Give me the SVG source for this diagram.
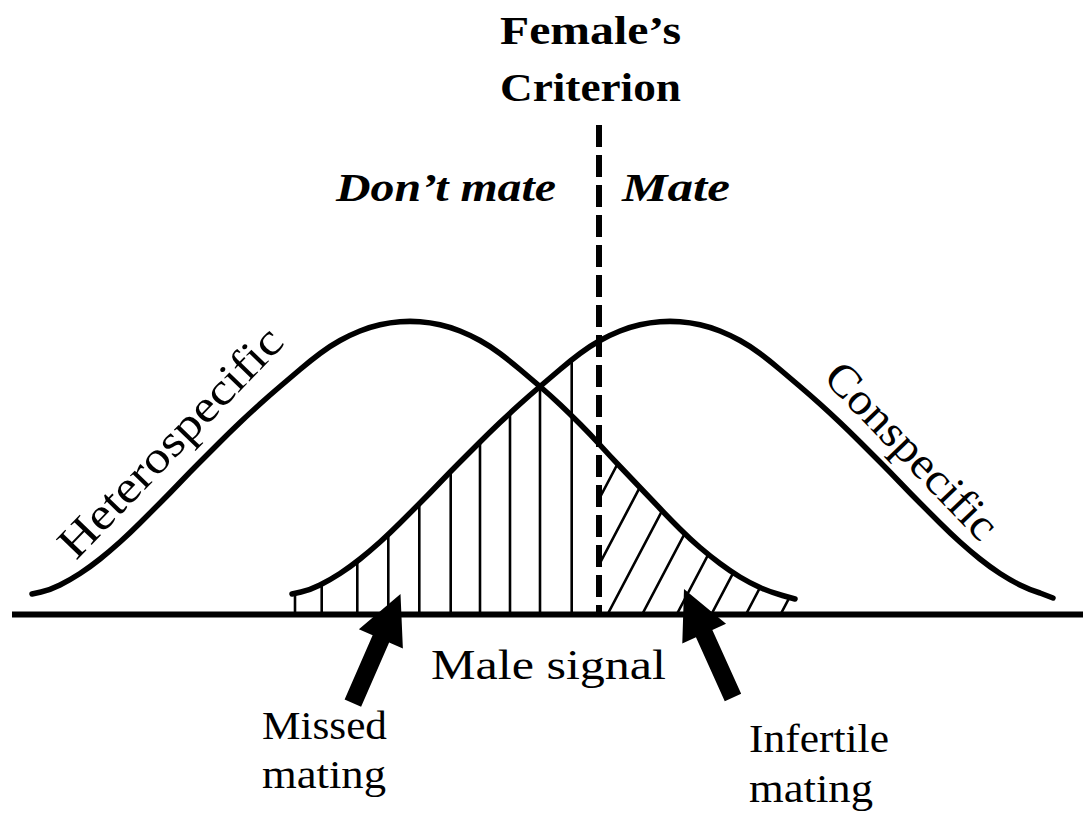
<svg xmlns="http://www.w3.org/2000/svg" width="1083" height="813" viewBox="0 0 1083 813">
<style>
.curve{fill:none;stroke:#000;stroke-width:5.5;stroke-linecap:round;stroke-linejoin:round}
.hatch{stroke:#000;stroke-width:2.6;fill:none}
.t{font-family:"Liberation Serif","Times New Roman",serif;fill:#000}
.b{font-weight:bold}
.bi{font-weight:bold;font-style:italic}
</style>
<defs>
<clipPath id="clipV">
<path d="M292 594 L301 592 Q310 590 320 585 Q330 580 340 573.5 Q350 567 360 559 Q370 551 380 542 Q390 533 400 523 Q410 513 420 503 Q430 493 440 482.5 Q450 472 460 462 Q470 452 480 442 Q490 432 500 422.5 Q510 413 520 404 Q530 395 540 386.5 Q550 378 560 369.5 Q570 361 580 353.5 Q590 346 600 340.5 L600 615 L292 615 Z"/>
</clipPath>
<clipPath id="clipD">
<path d="M600 445 Q610 456 620 466.5 Q630 477 640 487.5 Q650 498 660 508.5 Q670 519 680 529 Q690 539 700 547.5 Q710 556 720 563.5 Q730 571 740 577 Q750 583 760 587.5 Q770 592 782.5 595.5 L795 599 L795 615 L600 615 Z"/>
</clipPath>
<path id="arrowShape" d="M0 0 L24 49 L9 49 L9 119 L-9 119 L-9 49 L-24 49 Z"/>
</defs>
<rect width="1083" height="813" fill="#fff"/>

<g id="hatching">
<g clip-path="url(#clipV)">
<path class="hatch" d="M295 300V616M321.7 300V616M357.3 300V616M388.3 300V616M419.3 300V616M450.7 300V616M480 300V616M510 300V616M540 300V616M571.7 300V616"/>
</g>
<g clip-path="url(#clipD)">
<path class="hatch" d="M538 615L696 315M572.6 615L730.6 315M607.2 615L765.2 315M641.8 615L799.8 315M676.4 615L834.4 315M711 615L869 315M745.6 615L903.6 315M780.2 615L938.2 315"/>
</g>
</g>

<g id="heterospecific">
<path class="curve" d="M32 594 L41 592 Q50 590 60 585 Q70 580 80 573.5 Q90 567 100 559 Q110 551 120 542 Q130 533 140 523 Q150 513 160 503 Q170 493 180 482.5 Q190 472 200 462 Q210 452 220 442 Q230 432 240 422.5 Q250 413 260 404 Q270 395 280 386.5 Q290 378 300 369.5 Q310 361 320 353.5 Q330 346 340 340.5 Q350 335 360 331 Q370 327 380 324.75 Q390 322.5 400 321.75 Q410 321 420 321.75 Q430 322.5 440 324.75 Q450 327 460 331 Q470 335 480 340.5 Q490 346 500 353.5 Q510 361 520 369.5 Q530 378 540 386.5 Q550 395 560 404.5 Q570 414 580 424 Q590 434 600 445 Q610 456 620 466.5 Q630 477 640 487.5 Q650 498 660 508.5 Q670 519 680 529 Q690 539 700 547.5 Q710 556 720 563.5 Q730 571 740 577 Q750 583 760 587.5 Q770 592 782.5 595.5 L795 599"/>
<text class="t" font-size="45" transform="translate(76 561) rotate(-46)" textLength="302" lengthAdjust="spacingAndGlyphs">Heterospecific</text>
</g>

<g id="conspecific">
<path class="curve" d="M292 594 L301 592 Q310 590 320 585 Q330 580 340 573.5 Q350 567 360 559 Q370 551 380 542 Q390 533 400 523 Q410 513 420 503 Q430 493 440 482.5 Q450 472 460 462 Q470 452 480 442 Q490 432 500 422.5 Q510 413 520 404 Q530 395 540 386.5 Q550 378 560 369.5 Q570 361 580 353.5 Q590 346 600 340.5 Q610 335 620 331 Q630 327 640 324.75 Q650 322.5 660 321.75 Q670 321 680 321.75 Q690 322.5 700 324.75 Q710 327 720 331 Q730 335 740 340.5 Q750 346 760 353.5 Q770 361 780 369.5 Q790 378 800 386.5 Q810 395 820 404 Q830 413 840 422.5 Q850 432 860 442 Q870 452 880 462 Q890 472 900 482.5 Q910 493 920 503 Q930 513 940 523 Q950 533 960 542 Q970 551 980 559 Q990 567 1000 573.5 Q1010 580 1020 585 Q1030 590 1040 593 L1053 598"/>
<text class="t" font-size="45" transform="translate(822 379) rotate(46)" textLength="228" lengthAdjust="spacingAndGlyphs">Conspecific</text>
</g>

<g id="axis">
<line x1="12" y1="614.5" x2="1083" y2="614.5" stroke="#000" stroke-width="6"/>
<text class="t" font-size="42" x="431" y="679" textLength="235" lengthAdjust="spacingAndGlyphs">Male signal</text>
</g>

<g id="criterion">
<line x1="599" y1="125" x2="599" y2="614" stroke="#000" stroke-width="6" stroke-dasharray="22 8"/>
<text class="t b" font-size="40" x="500" y="44" textLength="181" lengthAdjust="spacingAndGlyphs">Female’s</text>
<text class="t b" font-size="40" x="500" y="101" textLength="181" lengthAdjust="spacingAndGlyphs">Criterion</text>
<text class="t bi" font-size="40" x="336" y="201" textLength="220" lengthAdjust="spacingAndGlyphs">Don’t mate</text>
<text class="t bi" font-size="40" x="622" y="201" textLength="108" lengthAdjust="spacingAndGlyphs">Mate</text>
</g>

<g id="connectors">
<use href="#arrowShape" transform="translate(400.5 594) rotate(23.6)" fill="#000"/>
<use href="#arrowShape" transform="translate(684 589) rotate(-24.3)" fill="#000"/>
</g>

<g id="missed-mating">
<text class="t" font-size="39" x="262" y="739" textLength="125" lengthAdjust="spacingAndGlyphs">Missed</text>
<text class="t" font-size="39" x="262" y="788" textLength="124" lengthAdjust="spacingAndGlyphs">mating</text>
</g>

<g id="infertile-mating">
<text class="t" font-size="39" x="749" y="752" textLength="140" lengthAdjust="spacingAndGlyphs">Infertile</text>
<text class="t" font-size="39" x="749" y="802" textLength="124" lengthAdjust="spacingAndGlyphs">mating</text>
</g>
</svg>
